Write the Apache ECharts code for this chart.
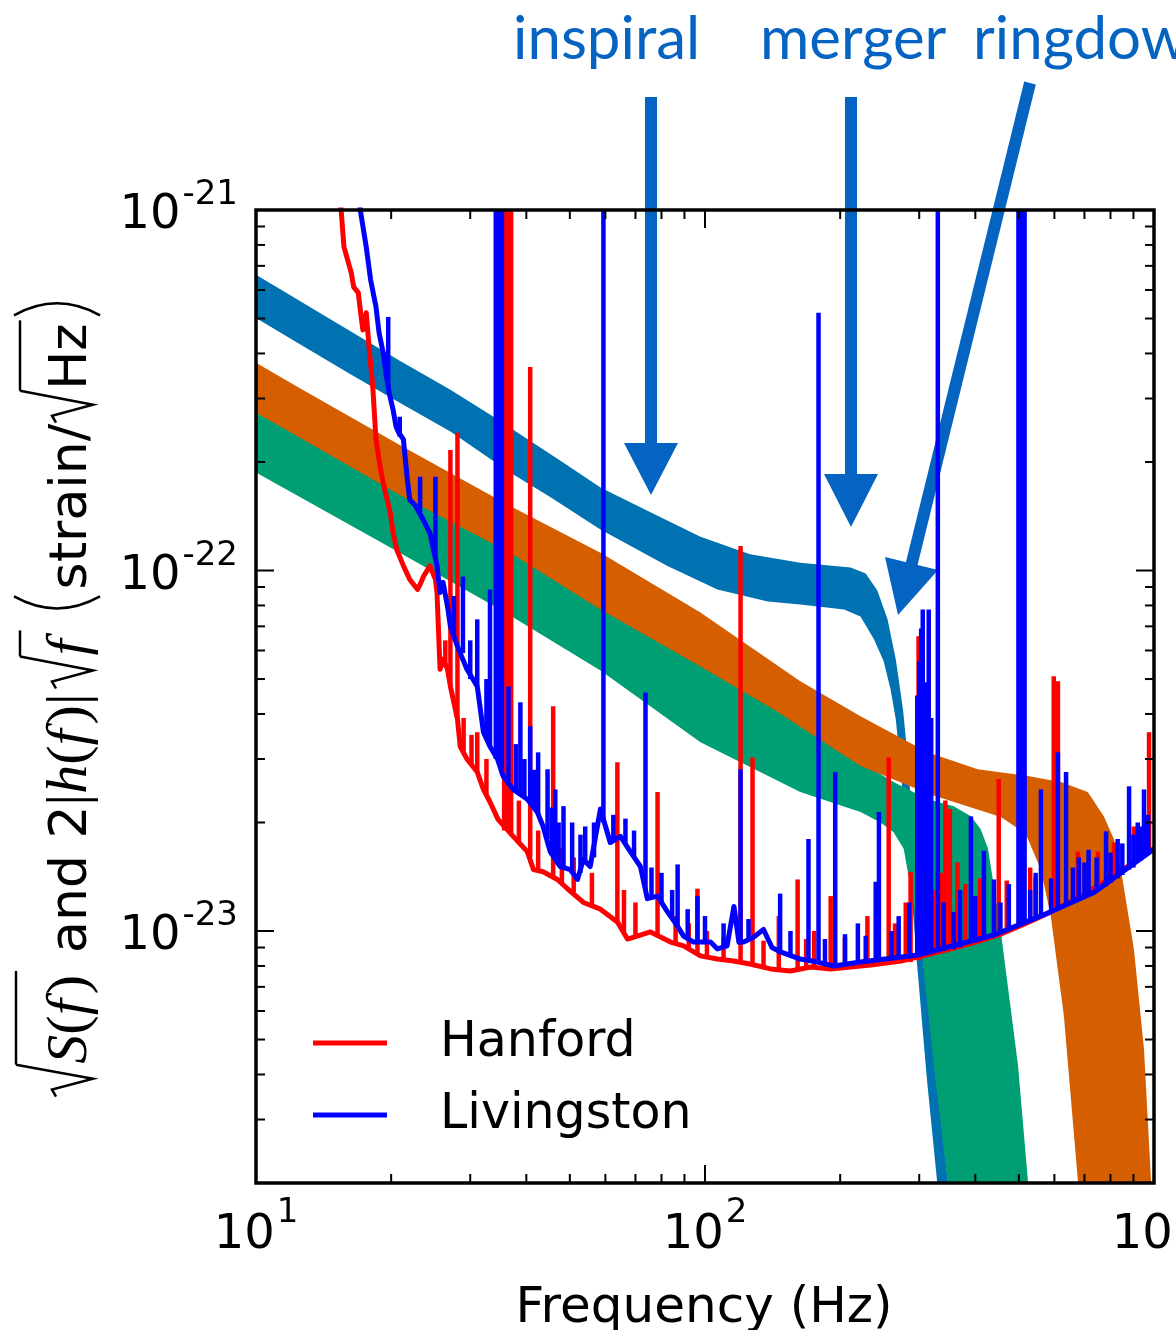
<!DOCTYPE html>
<html><head><meta charset="utf-8">
<script src="https://cdn.jsdelivr.net/npm/echarts@6/dist/echarts.min.js"></script>
<style>html,body{margin:0;padding:0;background:#fff;overflow:hidden}#c{width:1176px;height:1330px}</style>
</head><body><div id="c"></div>
<script>
// ---------- axis ticks & labels ----------
const xMajorTicks = [10, 100, 1000];
const xMinorTicks = [20,30,40,50,60,70,80,90,200,300,400,500,600,700,800,900];
const yMajorTicks = [1e-21, 1e-22, 1e-23];
const yMinorTicks = [3e-24,4e-24,5e-24,6e-24,7e-24,8e-24,9e-24,2e-23,3e-23,4e-23,5e-23,6e-23,7e-23,8e-23,9e-23,2e-22,3e-22,4e-22,5e-22,6e-22,7e-22,8e-22,9e-22];
const xLabelValues = [10, 100, 1000];
const xLabelExps = ['1', '2', '3'];
const yLabelValues = [1e-21, 1e-22, 1e-23];
const yLabelExps = ['-21', '-22', '-23'];

// ---------- waveform bands (upper edge, lower edge) ----------
const blueUpper = [[10,6.61e-22],[12.5,5.6e-22],[16.2,4.62e-22],[20.9,3.82e-22],[27.1,3.17e-22],[33.8,2.67e-22],[48.4,1.99e-22],[58.5,1.7e-22],[75.6,1.45e-22],[97.7,1.24e-22],[126,1.11e-22],[163,1.05e-22],[211,1.02e-22],[228,9.81e-23],[242,8.8e-23],[255,7.32e-23],[266,5.67e-23],[276,4.12e-23],[283,3.0e-23],[290,1.92e-23],[299,1.23e-23],[310,8.36e-24],[328,3.89e-24],[349,1.93e-24],[359,1.23e-24]];
const blueLower = [[10,5.02e-22],[12.5,4.25e-22],[16.2,3.51e-22],[20.9,2.92e-22],[27.1,2.43e-22],[36.8,1.87e-22],[45.2,1.6e-22],[58.5,1.3e-22],[82.5,1.03e-22],[106.6,8.86e-23],[138,8.2e-23],[163,8.05e-23],[204,7.8e-23],[222,7.46e-23],[238,6.44e-23],[250,5.6e-23],[259,4.68e-23],[266,3.87e-23],[273,2.81e-23],[280,1.8e-23],[289,1.23e-23],[296,8.36e-24],[312,3.89e-24],[330,1.93e-24],[338,1.23e-24]];
const orangeUpper = [[10,3.77e-22],[12.5,3.21e-22],[20.9,2.23e-22],[36.8,1.51e-22],[58.5,1.12e-22],[97.7,7.65e-23],[163,4.93e-23],[222,3.94e-23],[313,3.13e-23],[405,2.81e-23],[524,2.69e-23],[620,2.59e-23],[712,2.43e-23],[773,2.08e-23],[814,1.8e-23],[844,1.48e-23],[902,8.92e-24],[950,4.71e-24],[985,2.02e-24],[1000,1.32e-24]];
const orangeLower = [[10,2.74e-22],[12.5,2.34e-22],[20.9,1.62e-22],[36.8,1.12e-22],[58.5,7.8e-23],[97.7,5.42e-23],[142,4.12e-23],[222,2.87e-23],[318,2.39e-23],[456,2.07e-23],[518,1.86e-23],[560,1.48e-23],[589,1.1e-23],[630,5.81e-24],[677,2.02e-24],[688,1.32e-24]];
const greenUpper = [[10,2.74e-22],[20.9,1.68e-22],[35,1.17e-22],[58.5,7.95e-23],[97.7,5.49e-23],[163,3.87e-23],[222,2.94e-23],[263,2.59e-23],[313,2.32e-23],[358,2.22e-23],[391,2.08e-23],[411,1.92e-23],[427,1.69e-23],[456,9.94e-24],[498,4.23e-24],[524,2.02e-24],[537,1.32e-24]];
const greenLower = [[10,1.87e-22],[20.9,1.12e-22],[35,7.8e-23],[58.5,5.28e-23],[97.7,3.34e-23],[163,2.43e-23],[222,2.14e-23],[246,2.0e-23],[263,1.88e-23],[277,1.69e-23],[290,1.23e-23],[305,8.36e-24],[326,3.89e-24],[347,2.02e-24],[353,1.32e-24]];

// ---------- detector noise: baseline traces [f, ASD] ----------
const hanfordBase = [[15.3,1.2e-21],[15.7,7.9e-22],[16.3,6.69e-22],[16.5,6.12e-22],[16.9,5.89e-22],[17.1,5.19e-22],[17.3,4.65e-22],[17.6,5.19e-22],[17.9,4.02e-22],[18.2,3.23e-22],[18.5,2.31e-22],[18.9,1.94e-22],[19.2,1.75e-22],[19.6,1.57e-22],[19.9,1.45e-22],[20.2,1.27e-22],[20.6,1.14e-22],[21.3,1.03e-22],[22.0,9.44e-23],[22.9,8.86e-23],[23.2,9.15e-23],[23.6,9.62e-23],[24.4,1.03e-22],[25.1,9.44e-23],[25.3,8.69e-23],[25.7,5.32e-23],[26.1,5.67e-23],[26.7,5.32e-23],[27.1,4.77e-23],[28.1,3.87e-23],[28.5,3.25e-23],[29.5,3.0e-23],[31.1,2.76e-23],[32.1,2.47e-23],[33.2,2.28e-23],[34.6,2.04e-23],[37.4,1.83e-23],[40.2,1.66e-23],[41.5,1.48e-23],[43.6,1.46e-23],[46.9,1.39e-23],[49.4,1.31e-23],[53.6,1.2e-23],[58.5,1.15e-23],[63.8,1.06e-23],[67.2,9.5e-24],[75.6,9.94e-24],[83.8,9.32e-24],[89.6,9.09e-24],[97.7,8.53e-24],[106.6,8.36e-24],[115.8,8.26e-24],[126,8.1e-24],[140,7.85e-24],[155,7.75e-24],[172,7.95e-24],[190.5,7.85e-24],[211,7.95e-24],[234,8.05e-24],[273,8.26e-24],[318,8.64e-24],[353,8.92e-24],[401,9.32e-24],[456,9.81e-24],[518,1.05e-23],[589,1.13e-23],[670,1.23e-23],[762,1.35e-23],[866,1.5e-23],[1000,1.69e-23]];
const livingstonBase = [[16.8,1.2e-21],[17.1,9.87e-22],[17.6,7.9e-22],[18.0,6.4e-22],[18.5,5.39e-22],[18.8,4.56e-22],[19.2,4.02e-22],[19.5,3.49e-22],[19.8,3.11e-22],[20.2,2.79e-22],[20.5,2.51e-22],[20.8,2.41e-22],[21.3,2.31e-22],[21.7,1.82e-22],[22.0,1.57e-22],[22.6,1.52e-22],[23.6,1.38e-22],[24.4,1.27e-22],[25.3,1.03e-22],[25.7,8.69e-23],[26.1,9.27e-23],[26.7,7.95e-23],[27.1,7.0e-23],[28.1,6.16e-23],[29.5,5.32e-23],[31.1,4.77e-23],[31.6,4.12e-23],[32.1,3.56e-23],[33.2,3.25e-23],[34.5,3.0e-23],[35.5,2.69e-23],[37.4,2.47e-23],[40.2,2.32e-23],[42.3,2.14e-23],[43.6,1.95e-23],[45.2,1.66e-23],[47.6,1.51e-23],[50.1,1.48e-23],[52.0,1.39e-23],[53.6,1.58e-23],[55.5,1.51e-23],[58.5,2.18e-23],[61.5,1.76e-23],[64.8,1.83e-23],[68.2,1.66e-23],[71.8,1.51e-23],[74.4,1.23e-23],[78.4,1.25e-23],[82.5,1.13e-23],[86.9,1.03e-23],[89.6,9.68e-24],[94.3,9.32e-24],[102.9,9.32e-24],[106.6,8.92e-24],[112,9.1e-24],[116,1.17e-23],[119,9.3e-24],[121.9,9.32e-24],[128,9.6e-24],[135,1.01e-23],[141,9.0e-24],[147.3,8.75e-24],[163,8.36e-24],[178.2,8.2e-24],[193.4,8.0e-24],[222,8.2e-24],[298,8.58e-24],[440,9.75e-24],[569,1.11e-23],[735,1.28e-23],[1000,1.69e-23]];

// ---------- narrow spectral lines [f, base, peak] ----------
const hanfordLines = [[26.4,5.4e-23,6.4e-23],[27.1,4.8e-23,2.16e-22],[28.1,3.9e-23,2.41e-22],[29.0,3.1e-23,3.9e-23],[30.2,2.9e-23,3.5e-23],[31.1,2.76e-23,3.56e-23],[32.6,2.4e-23,3.0e-23],[35.7,1.9e-23,2e-21],[36.4,1.9e-23,2e-21],[37.0,1.85e-23,2e-21],[38.5,1.75e-23,2.3e-23],[40.8,1.6e-23,3.67e-22],[42.5,1.47e-23,1.9e-23],[45.9,1.4e-23,4.2e-23],[48,1.35e-23,1.7e-23],[51,1.28e-23,1.6e-23],[56,1.17e-23,1.45e-23],[63.8,1.06e-23,2.94e-23],[66,1.0e-23,1.3e-23],[70,9.6e-24,1.2e-23],[78.4,9.7e-24,2.43e-23],[86,9.2e-24,1.1e-23],[92,8.9e-24,1.05e-23],[96.2,8.6e-24,1.31e-23],[101,8.5e-24,1.0e-23],[110,8.3e-24,9.6e-24],[120,8.2e-24,1.17e-22],[127.6,8.1e-24,3.03e-23],[135,8.0e-24,9.4e-24],[146,7.8e-24,1.1e-23],[160.8,7.8e-24,1.39e-23],[168,7.9e-24,9.5e-24],[175,7.95e-24,1.0e-23],[190.5,7.85e-24,1.25e-23],[205,7.9e-24,9.6e-24],[230,8.0e-24,1.1e-23],[256.5,8.1e-24,3.03e-23],[265,8.2e-24,1.05e-23],[280,8.2e-24,1.2e-23],[287,8.2e-24,1.46e-23],[299,8.3e-24,6.57e-23],[322,8.6e-24,1.3e-23],[335,8.7e-24,1.45e-23],[343,8.8e-24,2.3e-23],[351,8.9e-24,2.18e-23],[365,9.0e-24,1.55e-23],[380,9.1e-24,1.35e-23],[395,9.3e-24,1.25e-23],[410,9.4e-24,1.4e-23],[451,9.8e-24,2.64e-23],[470,1.0e-23,1.38e-23],[530,1.06e-23,1.5e-23],[545,1.08e-23,1.4e-23],[598,1.14e-23,5.09e-23],[611,1.15e-23,4.93e-23],[677,1.24e-23,1.66e-23],[750,1.33e-23,1.66e-23],[814,1.42e-23,1.76e-23],[902,1.55e-23,1.95e-23],[975,1.66e-23,3.56e-23]];
const livingstonLines = [[19.7,3.2e-22,5.05e-22],[20.9,2.35e-22,2.67e-22],[23.2,1.45e-22,1.82e-22],[25.1,1.07e-22,1.82e-22],[27.6,6.5e-23,8.5e-23],[28.9,5.9e-23,9.62e-23],[30.0,5.0e-23,6.4e-23],[31.1,4.77e-23,7.32e-23],[32.6,3.4e-23,5.0e-23],[33.2,3.25e-23,8.86e-23],[34.2,3.0e-23,2e-21],[34.7,3.0e-23,2e-21],[35.3,2.8e-23,2e-21],[36.5,2.6e-23,4.77e-23],[37.9,2.45e-23,3.3e-23],[38.8,2.4e-23,4.31e-23],[39.6,2.35e-23,3.0e-23],[40.8,2.3e-23,3.7e-23],[41.6,2.2e-23,2.8e-23],[42.5,2.1e-23,3.13e-23],[44.6,1.8e-23,2.81e-23],[45.6,1.62e-23,2.2e-23],[46.4,1.6e-23,2.47e-23],[47.2,1.52e-23,2.0e-23],[48.4,1.5e-23,2.22e-23],[50.6,1.45e-23,2.0e-23],[52.8,1.45e-23,1.85e-23],[54.1,1.55e-23,1.95e-23],[56.6,1.6e-23,2.0e-23],[59.4,2.0e-23,2e-21],[62.5,1.78e-23,2.1e-23],[66.5,1.75e-23,2.05e-23],[69.5,1.6e-23,1.9e-23],[73.7,1.3e-23,4.59e-23],[76,1.24e-23,1.5e-23],[80,1.2e-23,1.45e-23],[84.5,1.08e-23,1.3e-23],[86.9,1.03e-23,1.53e-23],[91.5,9.5e-24,1.15e-23],[96.2,9.3e-24,1.25e-23],[100,9.3e-24,1.1e-23],[110,9.0e-24,1.05e-23],[120,9.3e-24,2.81e-23],[125,9.4e-24,1.08e-23],[147,8.75e-24,1.27e-23],[155,8.5e-24,1.0e-23],[170,8.3e-24,1.8e-23],[179,8.2e-24,5.19e-22],[185,8.1e-24,9.5e-24],[195,8.0e-24,2.76e-23],[205,8.1e-24,9.8e-24],[219,8.2e-24,1.05e-23],[228,8.2e-24,9.7e-24],[240,8.3e-24,1.37e-23],[244,8.3e-24,2.14e-23],[260,8.4e-24,1.0e-23],[270,8.4e-24,1.1e-23],[285,8.5e-24,1.2e-23],[297,8.6e-24,4.5e-23],[300,8.6e-24,5.6e-23],[303,8.6e-24,6.9e-23],[305.5,8.6e-24,7.8e-23],[309,8.7e-24,4.9e-23],[312,8.7e-24,4.1e-23],[315,8.7e-24,7.8e-23],[319,8.7e-24,3.9e-23],[330,8.8e-24,2e-21],[340,8.8e-24,1.2e-23],[358,8.9e-24,1.13e-23],[370,9.0e-24,1.3e-23],[391,9.3e-24,2.08e-23],[400,9.3e-24,1.25e-23],[418,9.5e-24,1.67e-23],[440,9.75e-24,1.39e-23],[455,9.9e-24,1.2e-23],[475,1.0e-23,1.35e-23],[499,1.03e-23,2e-21],[507,1.04e-23,2e-21],[515,1.05e-23,2e-21],[530,1.07e-23,1.3e-23],[545,1.08e-23,1.45e-23],[560,1.1e-23,2.47e-23],[590,1.13e-23,1.4e-23],[611,1.15e-23,3.13e-23],[637,1.18e-23,2.76e-23],[660,1.21e-23,1.5e-23],[680,1.24e-23,1.6e-23],[700,1.25e-23,1.55e-23],[715,1.27e-23,1.68e-23],[745,1.3e-23,1.6e-23],[782,1.33e-23,1.89e-23],[800,1.36e-23,1.65e-23],[830,1.4e-23,1.8e-23],[850,1.43e-23,1.75e-23],[880,1.48e-23,2.52e-23],[900,1.5e-23,1.85e-23],[920,1.55e-23,2.0e-23],[935,1.57e-23,1.95e-23],[950,1.6e-23,2.47e-23],[970,1.63e-23,2.1e-23]];

const seriesNames = ['Hanford', 'Livingston'];
const annotationTexts = ['inspiral', 'merger', 'ringdown'];

// ---------- helpers ----------
const SANS = '"DejaVu Sans"';
const mctx = document.createElement('canvas').getContext('2d');
function tw(t, f) { mctx.font = f; return mctx.measureText(t).width; }
function bOff(f) { mctx.font = f; mctx.textBaseline = 'middle'; const m = mctx.measureText('H'); mctx.textBaseline = 'alphabetic'; return m.actualBoundingBoxDescent; }
function txt(t, f, x, base, align, fill) {
  return { type: 'text', style: { text: t, font: f, x: x, y: base - bOff(f), fill: fill || '#000', align: align || 'left', textAlign: align || 'left', verticalAlign: 'middle', textVerticalAlign: 'middle' } };
}

function bandSeries(upper, lower, color) {
  return {
    type: 'custom', data: upper, clip: true, z: 2, silent: true,
    encode: { x: 0, y: 1 },
    renderItem: function (params, api) {
      if (params.dataIndex !== 0) return null;
      const pts = upper.map(p => api.coord(p)).concat(lower.slice().reverse().map(p => api.coord(p)));
      return { type: 'polygon', shape: { points: pts }, style: { fill: color } };
    }
  };
}
const LW = 5, SW = 4.5;
function linesSeries(data, color, z) {
  return {
    type: 'custom', data: data, clip: true, z: z, silent: true,
    encode: { x: 0, y: [1, 2] },
    renderItem: function (params, api) {
      const a = api.coord([api.value(0), api.value(1)]);
      const b = api.coord([api.value(0), api.value(2)]);
      return { type: 'line', shape: { x1: a[0], y1: a[1], x2: b[0], y2: b[1] }, style: { stroke: color, lineWidth: SW } };
    }
  };
}

const LBL = '48px ' + SANS, SUP = '34px ' + SANS;
const frameSeries = {
  type: 'custom', data: [[10, 1e-21]], clip: false, z: 20, silent: true,
  encode: { x: 0, y: 1 },
  renderItem: function (params, api) {
    const cs = params.coordSys;
    const x0 = cs.x, y0 = cs.y, x1 = cs.x + cs.width, y1 = cs.y + cs.height;
    const ch = [];
    const L = (a, b, c, d) => ch.push({ type: 'line', shape: { x1: a, y1: b, x2: c, y2: d }, style: { stroke: '#000', lineWidth: 2 } });
    xMajorTicks.forEach(v => { const x = api.coord([v, 1e-23])[0]; L(x, y1, x, y1 - 18); L(x, y0, x, y0 + 18); });
    xMinorTicks.forEach(v => { const x = api.coord([v, 1e-23])[0]; L(x, y1, x, y1 - 9); L(x, y0, x, y0 + 9); });
    yMajorTicks.forEach(v => { const y = api.coord([100, v])[1]; L(x0, y, x0 + 18, y); L(x1, y, x1 - 18, y); });
    yMinorTicks.forEach(v => { const y = api.coord([100, v])[1]; L(x0, y, x0 + 9, y); L(x1, y, x1 - 9, y); });
    ch.push({ type: 'rect', shape: { x: x0, y: y0, width: cs.width, height: cs.height }, style: { fill: null, stroke: '#000', lineWidth: 3.5 } });
    xLabelValues.forEach((v, i) => {
      const x = api.coord([v, 1e-23])[0];
      const w1 = tw('10', LBL), w2 = tw(xLabelExps[i], SUP);
      const sx = x - (w1 + w2 + 2) / 2;
      ch.push(txt('10', LBL, sx, y1 + 65, 'left'));
      ch.push(txt(xLabelExps[i], SUP, sx + w1 + 2, y1 + 39, 'left'));
    });
    yLabelValues.forEach((v, i) => {
      const y = api.coord([100, v])[1];
      const w2 = tw(yLabelExps[i], SUP);
      const ex = x0 - 18;
      ch.push(txt(yLabelExps[i], SUP, ex, y - 6, 'right'));
      ch.push(txt('10', LBL, ex - w2 - 2, y + 18, 'right'));
    });
    return { type: 'group', children: ch };
  }
};

// ---------- y-axis title built from pieces ----------
function buildYTitle() {
  const S = '52px ' + SANS, IT = 'italic 58px "Liberation Serif"', RM = '58px "Liberation Serif"';
  const ch = [];
  let u = 0;
  const put = (t, f, dy) => { ch.push(txt(t, f, u, dy || 0, 'left')); u += tw(t, f); };
  const radical = (top) => {
    ch.push({ type: 'polyline', shape: { points: [[u + 1, -30], [u + 8, -34], [u + 19, 7], [u + 33, top]] }, style: { stroke: '#000', lineWidth: 2.5, fill: null } });
    u += 34;
  };
  const over = (a, b, top) => ch.push({ type: 'line', shape: { x1: a, y1: top, x2: b, y2: top }, style: { stroke: '#000', lineWidth: 2.5 } });
  const paren = (open) => {
    const a = u + 5, b = u + 20;
    if (open) ch.push({ type: 'bezierCurve', shape: { x1: b, y1: -72, x2: b, y2: 14, cpx1: a - 9, cpy1: -29 }, style: { stroke: '#000', lineWidth: 2.5, fill: null } });
    else ch.push({ type: 'bezierCurve', shape: { x1: a, y1: -72, x2: a, y2: 14, cpx1: b + 9, cpy1: -29 }, style: { stroke: '#000', lineWidth: 2.5, fill: null } });
    u += 27;
  };
  radical(-70); let a = u - 1;
  put('S', IT); put('(', RM); put('f', IT); u += 5; put(')', RM); u += 4; over(a, u, -70);
  u += 18; put('and', S); put(' 2', S);
  put('|', RM); put('h', IT); put('(', RM); put('f', IT); u += 5; put(')', RM); put('|', RM);
  u += 4; radical(-66); a = u - 1; put('f', IT); u += 9; over(a, u, -66);
  u += 14; paren(true); put('strain/', S); radical(-66); a = u - 1; put('Hz', S); u += 3; over(a, u, -66); paren(false);
  return { total: u, children: ch };
}
const yt = buildYTitle();

// ---------- annotation arrows ----------
const ARW = '#0563c1';
const ANN = '60px Lato';
function arrowShapes() {
  const g = [];
  g.push({ type: 'polygon', z: 1, shape: { points: [[645, 97], [657, 97], [657, 446], [645, 446]] }, style: { fill: ARW } });
  g.push({ type: 'polygon', z: 1, shape: { points: [[624, 443], [678, 443], [651, 495]] }, style: { fill: ARW } });
  g.push({ type: 'polygon', z: 1, shape: { points: [[845, 97], [857, 97], [857, 477], [845, 477]] }, style: { fill: ARW } });
  g.push({ type: 'polygon', z: 1, shape: { points: [[824, 474], [878, 474], [851, 527]] }, style: { fill: ARW } });
  g.push({ type: 'polygon', z: 1, shape: { points: [[1024.2, 81.6], [1035.8, 84.4], [917.3, 566], [905.7, 563]] }, style: { fill: ARW } });
  g.push({ type: 'polygon', z: 1, shape: { points: [[885, 557], [938, 570], [898, 615]] }, style: { fill: ARW } });
  return g;
}

const graphics = arrowShapes();
[[513, annotationTexts[0]], [760, annotationTexts[1]], [973, annotationTexts[2]]].forEach(p => {
  const t = txt(p[1], ANN, p[0], 59, 'left', ARW); t.z = 1; graphics.push(t);
});
const xt = txt('Frequency (Hz)', '50px ' + SANS, 704, 1322, 'center'); xt.z = 5; graphics.push(xt);
graphics.push({ type: 'group', x: 86, y: 695.5 + yt.total / 2, rotation: Math.PI / 2, z: 5, children: yt.children });

const chart = echarts.init(document.getElementById('c'), null, { renderer: 'canvas' });
chart.setOption({
  animation: false,
  backgroundColor: '#fff',
  grid: { left: 256, top: 210, width: 898, height: 973, show: false },
  xAxis: { type: 'log', logBase: 10, min: 10, max: 1000, axisLine: { show: false }, axisTick: { show: false }, axisLabel: { show: false }, splitLine: { show: false } },
  yAxis: { type: 'log', logBase: 10, min: 2e-24, max: 1e-21, axisLine: { show: false }, axisTick: { show: false }, axisLabel: { show: false }, splitLine: { show: false } },
  legend: {
    orient: 'vertical', left: 313, top: 1014, padding: 0, itemGap: 14,
    itemWidth: 74, itemHeight: 5, icon: 'rect',
    data: seriesNames,
    textStyle: { fontFamily: 'DejaVu Sans', fontSize: 49, lineHeight: 50, color: '#000', padding: [8, 0, 0, 48] },
    selectedMode: false
  },
  graphic: graphics,
  series: [
    bandSeries(blueUpper, blueLower, '#0072b2'),
    bandSeries(greenUpper, greenLower, '#009e73'),
    bandSeries(orangeUpper, orangeLower, '#d55e00'),
    { type: 'line', name: seriesNames[0], data: hanfordBase, symbol: 'none', clip: true, z: 3, color: '#ff0000', lineStyle: { color: '#ff0000', width: LW, join: 'round' }, itemStyle: { color: '#ff0000' } },
    linesSeries(hanfordLines, '#ff0000', 3),
    { type: 'line', name: seriesNames[1], data: livingstonBase, symbol: 'none', clip: true, z: 4, color: '#0000ff', lineStyle: { color: '#0000ff', width: LW, join: 'round' }, itemStyle: { color: '#0000ff' } },
    linesSeries(livingstonLines, '#0000ff', 4),
    frameSeries
  ]
});
</script></body></html>
